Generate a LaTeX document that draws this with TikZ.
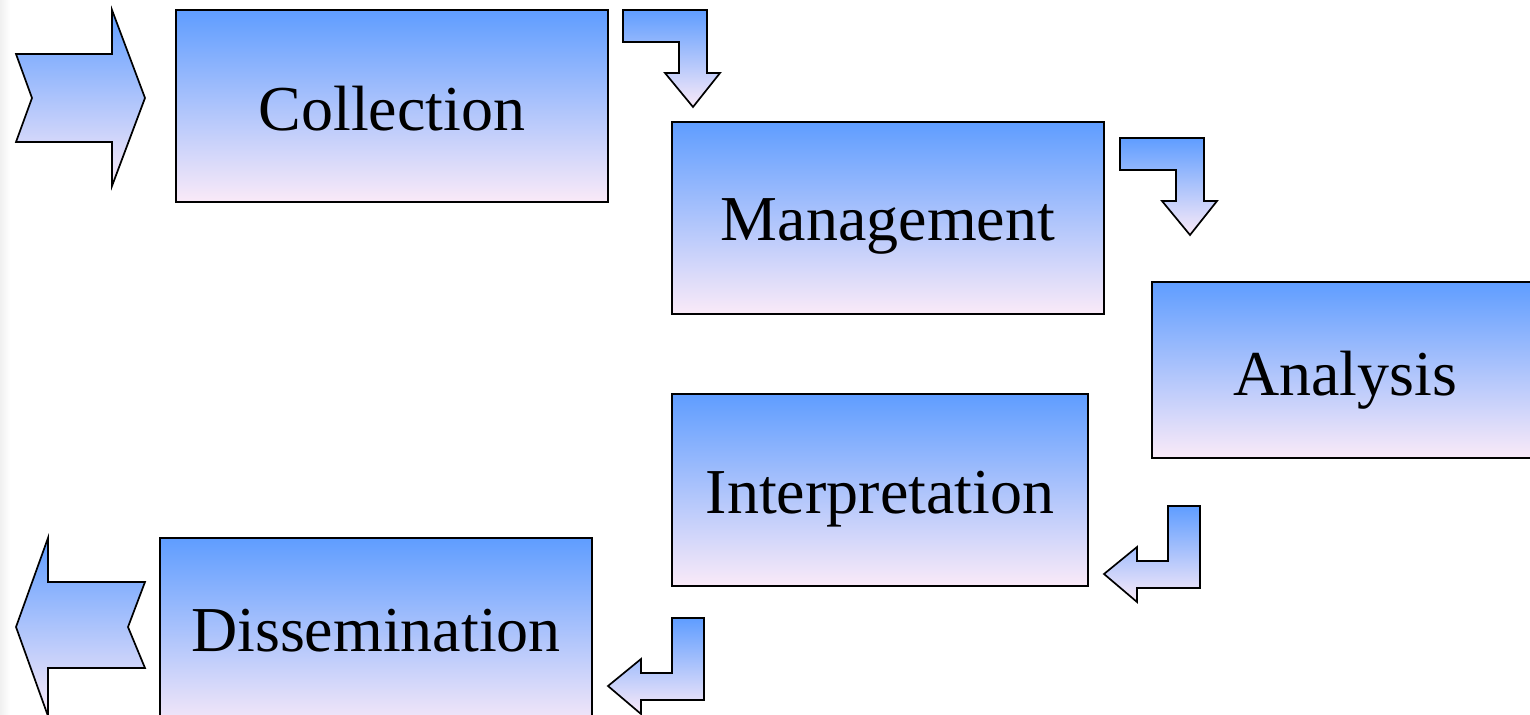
\documentclass[tikz,border=0pt]{standalone}
\usepackage{fontspec}
\setmainfont{Liberation Serif}
\definecolor{gtop}{HTML}{5F9DFF}
\definecolor{gmid}{HTML}{7EBCFF}
\definecolor{gbot}{HTML}{FAEAF8}
\begin{document}
\begin{tikzpicture}[x=0.5pt,y=-0.5pt,
  grad/.style={draw=black, line width=0.85pt, top color=gtop, middle color=gmid, bottom color=gbot},
  box/.style={grad, rectangle, inner sep=0pt, text depth=0pt, font=\fontsize{32}{38}\selectfont},
  blockarrow/.style={grad, line join=miter}]
\useasboundingbox (0,0) rectangle (1530,715);
\shade[left color=black!6, right color=white] (0,0) rectangle (10,715);
% boxes
\node[box, minimum width=216pt, minimum height=96pt] (collection) at (392,106) {};
\node at (392,108) [font=\fontsize{32}{38}\selectfont, text depth=0pt, inner sep=0pt] {Collection};
\node[box, minimum width=216pt, minimum height=96pt] (management) at (888,218) {};
\node at (888,220) [font=\fontsize{32}{38}\selectfont, text depth=0pt, inner sep=0pt] {Management};
\node[box, minimum width=194pt, minimum height=88pt] (analysis) at (1346,370) {};
\node at (1345,373) [font=\fontsize{32}{38}\selectfont, text depth=0pt, inner sep=0pt] {Analysis};
\node[box, minimum width=208pt, minimum height=96pt] (interpretation) at (880,490) {};
\node at (880,492) [font=\fontsize{32}{38}\selectfont, text depth=0pt, inner sep=0pt] {Interpretation};
\node[box, minimum width=216pt, minimum height=96pt] (dissemination) at (376,634) {};
\node at (376,630) [font=\fontsize{32}{38}\selectfont, text depth=0pt, inner sep=0pt] {Dissemination};
% input arrow
\path[blockarrow] (16,54)--(112,54)--(112,10)--(145,98)--(112,186)--(112,142)--(16,142)--(32,98)--cycle;
% bent down arrows
\path[blockarrow] (623,10)--(707,10)--(707,73)--(720,73)--(693,107)--(665,73)--(679,73)--(679,42)--(623,42)--cycle;
\begin{scope}[shift={(497,128)}]
\path[blockarrow] (623,10)--(707,10)--(707,73)--(720,73)--(693,107)--(665,73)--(679,73)--(679,42)--(623,42)--cycle;
\end{scope}
% bent left arrows
\path[blockarrow] (1168,506)--(1200,506)--(1200,588)--(1137,588)--(1137,602)--(1104,574)--(1137,547)--(1137,561)--(1168,561)--cycle;
\begin{scope}[shift={(-496,112)}]
\path[blockarrow] (1168,506)--(1200,506)--(1200,588)--(1137,588)--(1137,602)--(1104,574)--(1137,547)--(1137,561)--(1168,561)--cycle;
\end{scope}
% output arrow
\path[blockarrow] (16,627)--(48,538)--(48,582)--(145,582)--(128,627)--(145,668)--(48,668)--(48,716)--cycle;
\end{tikzpicture}
\end{document}
